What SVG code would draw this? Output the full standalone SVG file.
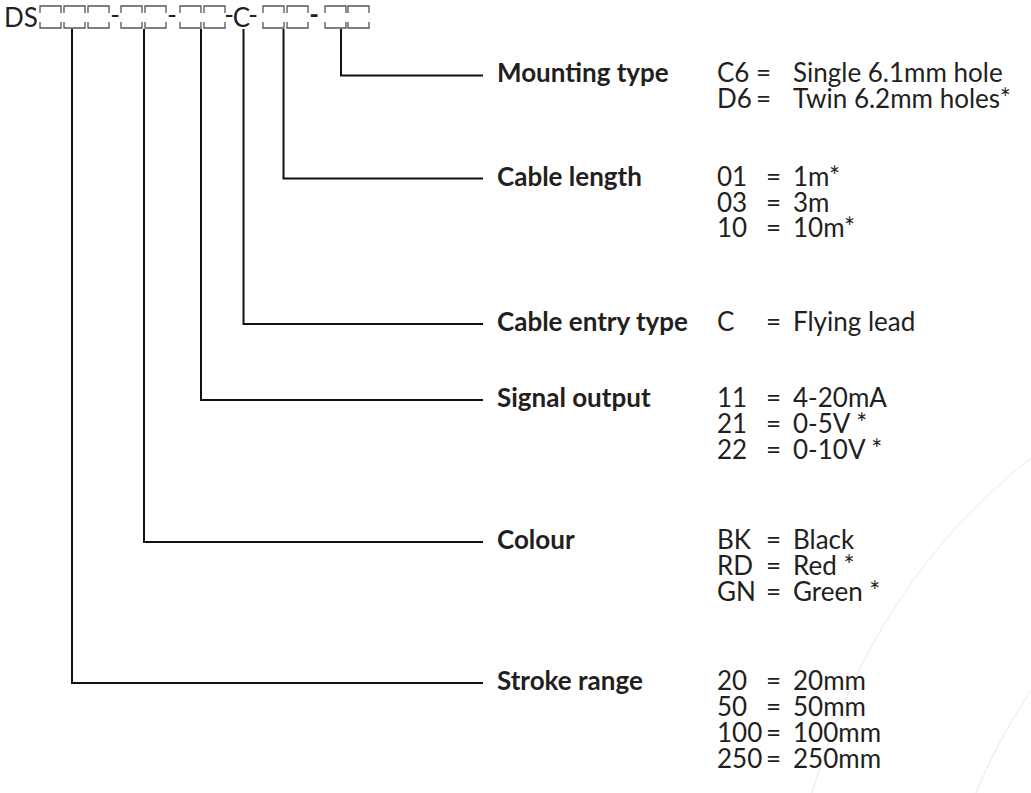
<svg xmlns="http://www.w3.org/2000/svg" width="1031" height="793" viewBox="0 0 1031 793">
<style>
.lbl{font-family:Lato,"Liberation Sans",sans-serif;font-weight:bold;font-size:26px;fill:#231f20}
.val{font-family:Lato,"Liberation Sans",sans-serif;font-size:26px;fill:#231f20}
.hdr{font-family:Lato,"Liberation Sans",sans-serif;font-size:26px;fill:#231f20}
.box{fill:none;stroke:#555;stroke-width:1.3}
.con{fill:none;stroke:#111;stroke-width:2}
.bg{fill:none;stroke:#e9e9e9;stroke-width:1}
</style>
<defs>
<path id="bx" d="M0,7 V0 H21 V7 M0,16 V22 H21 V16"/>
</defs>
<rect width="1031" height="793" fill="#fff"/>
<g id="background">
<path class="bg" d="M1031,458 C940,530 860,630 812,793"/>
<path class="bg" d="M1031,690 Q995,745 976,793"/>
</g>
<g id="code">
<text class="hdr" x="4" y="27">DS</text>
<g transform="translate(0,6)">
<use href="#bx" class="box" x="40"/>
<use href="#bx" class="box" x="64"/>
<use href="#bx" class="box" x="88"/>
<use href="#bx" class="box" x="121"/>
<use href="#bx" class="box" x="145"/>
<use href="#bx" class="box" x="180"/>
<use href="#bx" class="box" x="204"/>
<use href="#bx" class="box" x="263"/>
<use href="#bx" class="box" x="287"/>
<use href="#bx" class="box" x="325"/>
<use href="#bx" class="box" x="348"/>
</g>
<text class="hdr" x="115" y="24" text-anchor="middle">-</text>
<text class="hdr" x="172" y="24" text-anchor="middle">-</text>
<text class="hdr" x="229" y="24" text-anchor="middle">-</text>
<text class="hdr" x="241.5" y="27" text-anchor="middle">C</text>
<text class="hdr" x="253" y="24" text-anchor="middle">-</text>
<text class="hdr" x="314" y="24" text-anchor="middle" font-weight="bold">-</text>
</g>
<g id="connectors">
<path class="con" d="M341,29 V75.5 H483"/>
<path class="con" d="M283.5,29 V178.5 H483"/>
<path class="con" d="M243.5,29 V324 H483"/>
<path class="con" d="M201,29 V400 H483"/>
<path class="con" d="M144,29 V542 H483"/>
<path class="con" d="M72,29 V683 H483"/>
</g>
<g id="mounting">
<text class="lbl" x="497" y="82">Mounting type</text>
<text class="val" x="717" y="82">C6</text><text class="val" x="756" y="82">=</text><text class="val" x="793" y="82">Single 6.1mm hole</text>
<text class="val" x="717" y="108">D6</text><text class="val" x="756" y="108">=</text><text class="val" x="793" y="108">Twin 6.2mm holes*</text>
</g>
<g id="cable-length">
<text class="lbl" x="497" y="186">Cable length</text>
<text class="val" x="717" y="186">01</text><text class="val" x="766" y="186">=</text><text class="val" x="793" y="186">1m*</text>
<text class="val" x="717" y="212">03</text><text class="val" x="766" y="212">=</text><text class="val" x="793" y="212">3m</text>
<text class="val" x="717" y="237">10</text><text class="val" x="766" y="237">=</text><text class="val" x="793" y="237">10m*</text>
</g>
<g id="cable-entry">
<text class="lbl" x="497" y="331">Cable entry type</text>
<text class="val" x="717" y="331">C</text><text class="val" x="766" y="331">=</text><text class="val" x="793" y="331">Flying lead</text>
</g>
<g id="signal-output">
<text class="lbl" x="497" y="407">Signal output</text>
<text class="val" x="717" y="407">11</text><text class="val" x="766" y="407">=</text><text class="val" x="793" y="407">4-20mA</text>
<text class="val" x="717" y="433">21</text><text class="val" x="766" y="433">=</text><text class="val" x="793" y="433">0-5V *</text>
<text class="val" x="717" y="459">22</text><text class="val" x="766" y="459">=</text><text class="val" x="793" y="459">0-10V *</text>
</g>
<g id="colour">
<text class="lbl" x="497" y="549">Colour</text>
<text class="val" x="717" y="549">BK</text><text class="val" x="766" y="549">=</text><text class="val" x="793" y="549">Black</text>
<text class="val" x="717" y="575">RD</text><text class="val" x="766" y="575">=</text><text class="val" x="793" y="575">Red *</text>
<text class="val" x="717" y="601">GN</text><text class="val" x="766" y="601">=</text><text class="val" x="793" y="601">Green *</text>
</g>
<g id="stroke-range">
<text class="lbl" x="497" y="690">Stroke range</text>
<text class="val" x="717" y="690">20</text><text class="val" x="766" y="690">=</text><text class="val" x="793" y="690">20mm</text>
<text class="val" x="717" y="716">50</text><text class="val" x="766" y="716">=</text><text class="val" x="793" y="716">50mm</text>
<text class="val" x="717" y="742">100</text><text class="val" x="766" y="742">=</text><text class="val" x="793" y="742">100mm</text>
<text class="val" x="717" y="768">250</text><text class="val" x="766" y="768">=</text><text class="val" x="793" y="768">250mm</text>
</g>
</svg>
